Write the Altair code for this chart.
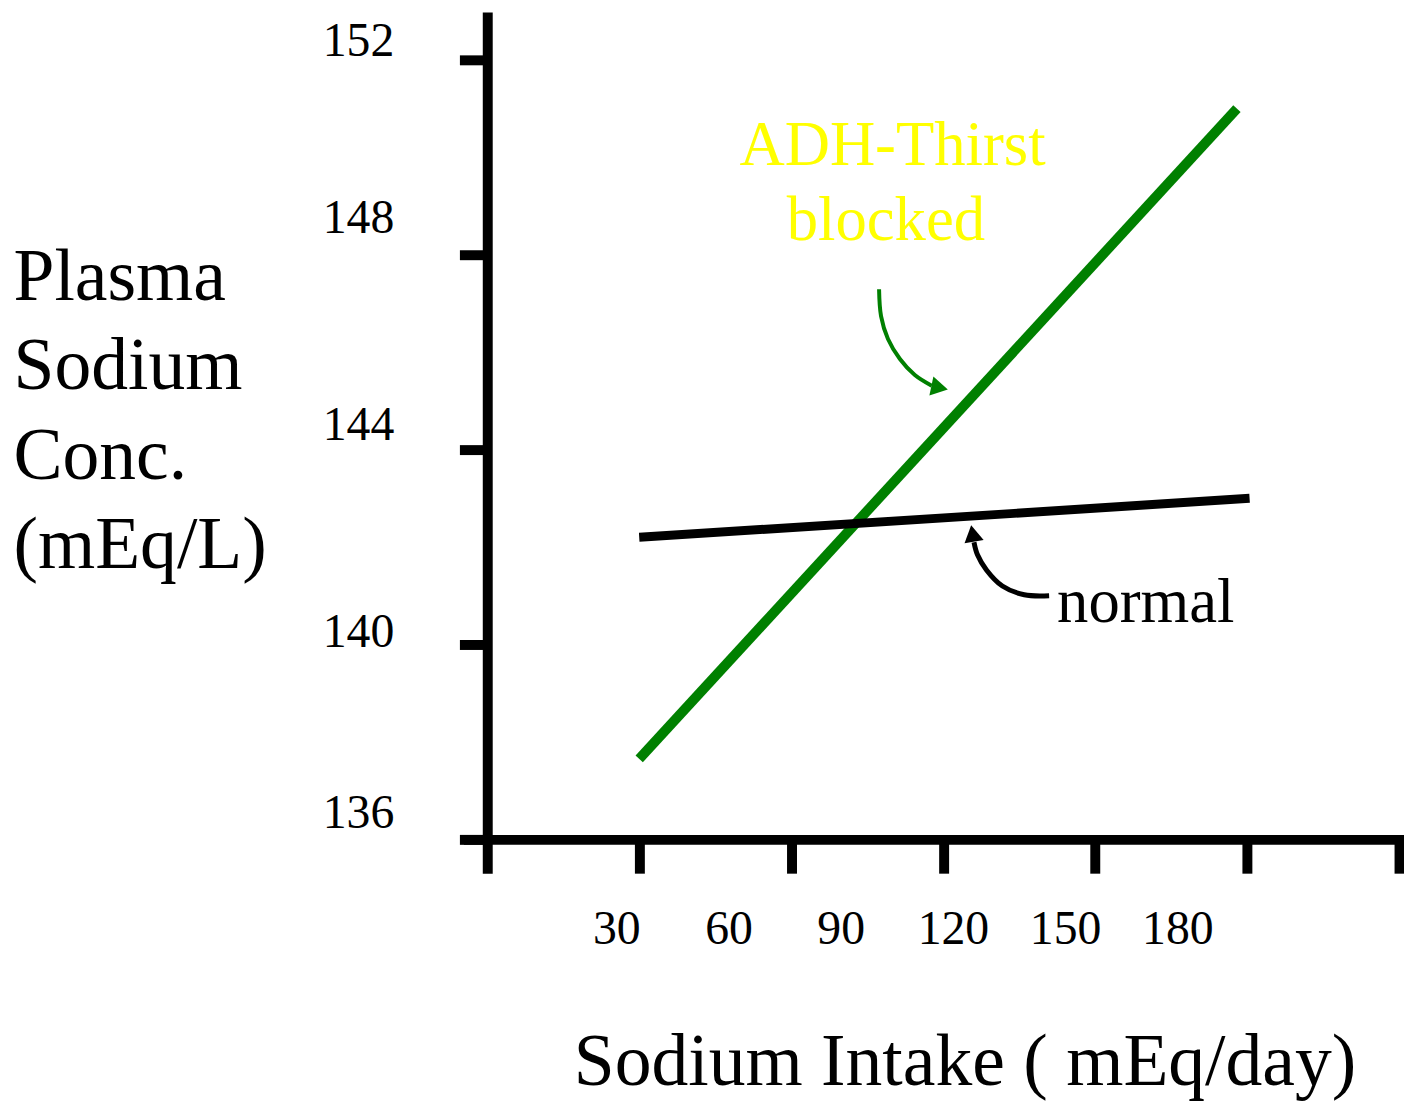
import altair as alt
import pandas as pd

# ---- data ----
intake_ticks = [30, 60, 90, 120, 150, 180]
sodium_ticks = [136, 140, 144, 148, 152]

blocked_x = [30, 148]
blocked_y = [137.65, 151.0]
normal_x = [30, 150.5]
normal_y = [142.2, 143.0]

green_arrow_x = [77.35, 77.74, 79.11, 81.47, 84.41, 87.75]
green_arrow_y = [147.29, 146.74, 146.27, 145.86, 145.53, 145.31]
black_arrow_x = [110.92, 106.01, 101.69, 98.55, 96.78, 96.09]
black_arrow_y = [141.00, 141.02, 141.20, 141.53, 141.84, 142.10]

head_green = [89.3, 145.27]
head_black = [95.82, 142.28]

label_text = ["ADH-Thirst", "blocked"]
label_x = [80.0, 78.7]
label_y = [149.84, 148.31]
normal_label = ["normal"]
normal_label_x = [112.5]
normal_label_y = [140.47]

FONT = "Liberation Serif"
GREEN = "#008000"

x_enc = alt.X(
    "x:Q",
    scale=alt.Scale(domain=[-4.71, 180.98], nice=False, zero=False),
    axis=alt.Axis(
        values=intake_ticks, orient="bottom", offset=-34, grid=False,
        domainColor="black", domainWidth=10, tickColor="black", tickWidth=10, tickSize=34,
        labelFont=FONT, labelFontSize=48, labelColor="black", labelBaseline="middle",
        labelPadding=57, labelFlush=False, labelOverlap=False,
        labelOffset={"expr": "-23 - (datum.value - 30) * 4 / 3"},
        title="Sodium Intake ( mEq/day)", titleFont=FONT, titleFontSize=74,
        titleFontWeight="normal", titleColor="black", titleAlign="center",
        titleBaseline="alphabetic", titleX=504, titleY=247,
    ),
)
y_enc = alt.Y(
    "y:Q",
    scale=alt.Scale(domain=[135.306, 152.98], nice=False, zero=False),
    axis=alt.Axis(
        values=sodium_ticks, orient="left", offset=-24, grid=False,
        domainColor="black", domainWidth=10, tickColor="black", tickWidth=10, tickSize=28,
        labelFont=FONT, labelFontSize=48, labelColor="black", labelAlign="right",
        labelBaseline="middle", labelPadding=66, labelOverlap=False, labelFlush=False,
        labelOffset={"expr": "datum.value == 148 ? -36 : datum.value == 144 ? -24 : datum.value == 140 ? -12 : datum.value == 152 ? -18 : -26"},
        title=["Plasma", "Sodium", "Conc.", "(mEq/L)"], titleFont=FONT, titleFontSize=74,
        titleFontWeight="normal", titleColor="black", titleAngle=0, titleAlign="left",
        titleBaseline="alphabetic", titleX=-477, titleY=289, titleLineHeight=90,
    ),
)

blocked_df = pd.DataFrame({"x": blocked_x, "y": blocked_y})
normal_df = pd.DataFrame({"x": normal_x, "y": normal_y})
garrow_df = pd.DataFrame({"x": green_arrow_x, "y": green_arrow_y, "o": range(len(green_arrow_x))})
barrow_df = pd.DataFrame({"x": black_arrow_x, "y": black_arrow_y, "o": range(len(black_arrow_x))})
ghead_df = pd.DataFrame({"x": [head_green[0]], "y": [head_green[1]]})
bhead_df = pd.DataFrame({"x": [head_black[0]], "y": [head_black[1]]})
lab_df = pd.DataFrame({"x": label_x, "y": label_y, "t": label_text})
nlab_df = pd.DataFrame({"x": normal_label_x, "y": normal_label_y, "t": normal_label})

blocked_line = alt.Chart(blocked_df).mark_line(color=GREEN, strokeWidth=10, strokeCap="butt").encode(x=x_enc, y=y_enc)
normal_line = alt.Chart(normal_df).mark_line(color="black", strokeWidth=9, strokeCap="butt").encode(x=x_enc, y=y_enc)
garrow = alt.Chart(garrow_df).mark_line(color=GREEN, strokeWidth=4, interpolate="catmull-rom").encode(x=x_enc, y=y_enc, order="o:Q")
barrow = alt.Chart(barrow_df).mark_line(color="black", strokeWidth=5, interpolate="catmull-rom").encode(x=x_enc, y=y_enc, order="o:Q")
ghead = alt.Chart(ghead_df).mark_point(shape="triangle-right", filled=True, size=380, angle=12, color=GREEN, opacity=1).encode(x=x_enc, y=y_enc)
bhead = alt.Chart(bhead_df).mark_point(shape="triangle-up", filled=True, size=380, angle=350, color="black", opacity=1).encode(x=x_enc, y=y_enc)
labels = alt.Chart(lab_df).mark_text(font=FONT, fontSize=63, color="#FFFF00", align="center", baseline="alphabetic").encode(x=x_enc, y=y_enc, text="t:N")
nlabel = alt.Chart(nlab_df).mark_text(font=FONT, fontSize=63, color="black", align="left", baseline="alphabetic").encode(x=x_enc, y=y_enc, text="t:N")

chart = alt.layer(
    blocked_line, normal_line, garrow, barrow, ghead, bhead, labels, nlabel
).properties(
    width=946, height=866,
    autosize=alt.AutoSizeParams(type="none"),
    padding={"left": 458, "top": 1, "right": 0, "bottom": 227},
    background="white",
).configure_view(stroke=None)

chart.save("out.html", embed_options={"renderer": "svg", "actions": False})
